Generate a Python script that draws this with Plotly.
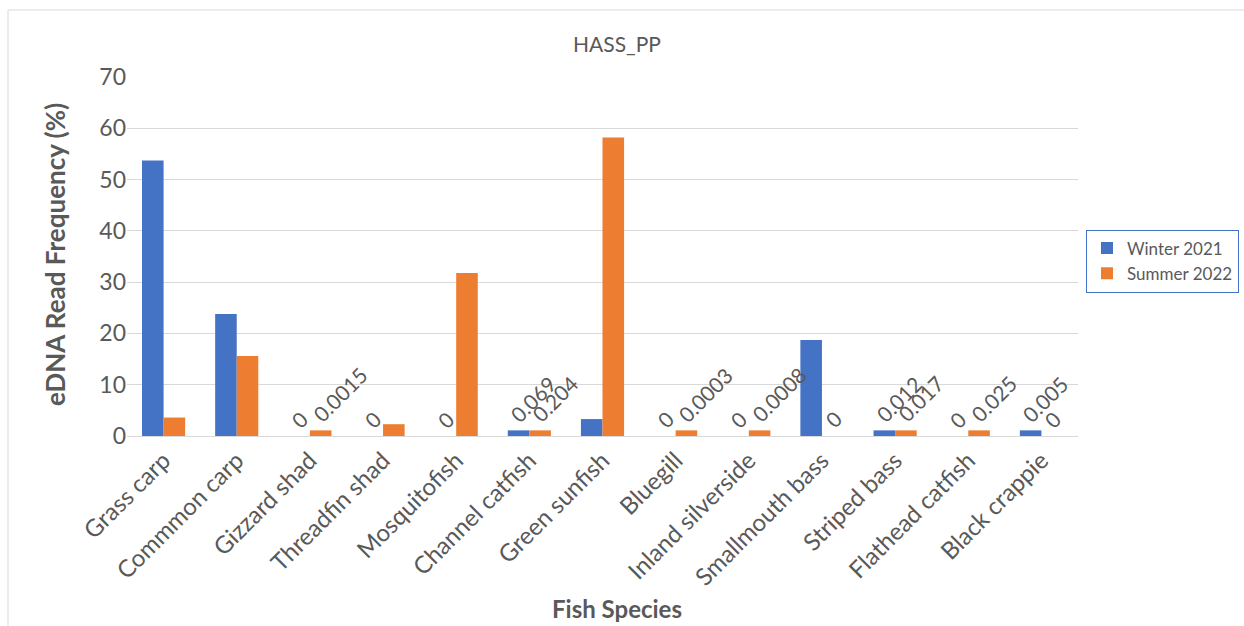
import plotly.graph_objects as go

# Fish species detected at HASS_PP and their eDNA read frequency (%)
species = [
    "Grass carp", "Commmon carp", "Gizzard shad", "Threadfin shad", "Mosquitofish",
    "Channel catfish", "Green sunfish", "Bluegill", "Inland silverside",
    "Smallmouth bass", "Striped bass", "Flathead catfish", "Black crappie",
]
winter_2021 = [53.7, 23.8, 0, 0, 0, 0.069, 3.3, 0, 0, 18.7, 0.012, 0, 0.005]
summer_2022 = [3.6, 15.6, 0.0015, 2.3, 31.8, 0.204, 58.2, 0.0003, 0.0008, 0, 0.017, 0.025, 0]

# Values below this are drawn as a short stub so trace amounts stay visible
MIN_VISIBLE = 1.1
LABEL_BELOW = 1.0

GRAY = "#595959"
FONT = "Lato"
L, R, T, B = 127, 166, 77, 190
PLOT_W = 1244 - L - R
PLOT_H = 626 - T - B


def bar_heights(vals):
    return [max(v, MIN_VISIBLE) if 0 < v < MIN_VISIBLE else v for v in vals]


series = [
    ("Winter 2021", winter_2021, "#4472C4", -10.7),
    ("Summer 2022", summer_2022, "#ED7D31", 10.7),
]

fig = go.Figure()
for name, vals, color, _ in series:
    fig.add_trace(go.Bar(
        name=name,
        x=species,
        y=bar_heights(vals),
        marker=dict(color=color, line=dict(width=0)),
        hovertext=[f"{v:g}" for v in vals],
        hoverinfo="x+text+name",
    ))

# Rotated value labels for the trace amounts
for name, vals, color, dx in series:
    for sp, v, h in zip(species, vals, bar_heights(vals)):
        if v < LABEL_BELOW:
            fig.add_annotation(
                x=sp, y=h, xref="x", yref="y",
                text=f"{v:g}",
                textangle=-45,
                xanchor="left", yanchor="bottom",
                xshift=dx - 16, yshift=1,
                showarrow=False,
                font=dict(family=FONT, size=21, color=GRAY),
            )

fig.add_annotation(
    text="<b>Fish Species</b>",
    xref="paper", yref="paper",
    x=(617 - L) / PLOT_W, y=(626 - B - 608) / PLOT_H,
    xanchor="center", yanchor="middle",
    showarrow=False,
    font=dict(family=FONT, size=24, color=GRAY),
)
fig.add_annotation(
    text="<b>eDNA Read Frequency (%)</b>",
    xref="paper", yref="paper",
    x=(55 - L) / PLOT_W, y=(626 - B - 255) / PLOT_H,
    xanchor="center", yanchor="middle",
    textangle=-90,
    showarrow=False,
    font=dict(family=FONT, size=26, color=GRAY),
)

fig.update_layout(
    width=1244,
    height=626,
    paper_bgcolor="white",
    plot_bgcolor="white",
    barmode="group",
    bargap=0.41,
    bargroupgap=0,
    margin=dict(l=L, r=R, t=T, b=B, autoexpand=False),
    font=dict(family=FONT, color=GRAY),
    title=dict(
        text="HASS_PP",
        x=617 / 1244,
        xanchor="center",
        y=1 - 45 / 626,
        yanchor="middle",
        font=dict(family=FONT, size=21, color=GRAY),
    ),
    legend=dict(
        x=(1086 - L) / PLOT_W,
        xanchor="left",
        y=(626 - B - 261) / PLOT_H,
        yanchor="middle",
        bordercolor="#4472C4",
        borderwidth=1,
        font=dict(family=FONT, size=17, color=GRAY),
        itemsizing="constant",
        itemwidth=30,
        tracegroupgap=4,
    ),
    xaxis=dict(
        tickangle=-45,
        tickfont=dict(family=FONT, size=24, color=GRAY),
        showgrid=False,
        showline=True,
        linecolor="#D9D9D9",
        linewidth=1,
        ticks="",
    ),
    yaxis=dict(
        range=[0, 70],
        dtick=10,
        tickfont=dict(family=FONT, size=23, color=GRAY),
        showgrid=True,
        gridcolor="#D9D9D9",
        gridwidth=1,
        zeroline=False,
        ticks="",
        ticklen=0,
    ),
    showlegend=True,
)

# Light frame around the chart area
fig.add_shape(
    type="rect",
    xref="paper", yref="paper",
    x0=(8 - L) / PLOT_W, x1=1.25,
    y0=-0.6, y1=(626 - B - 10) / PLOT_H,
    line=dict(color="#D9D9D9", width=1),
    fillcolor="rgba(0,0,0,0)",
    layer="below",
)

fig.write_html("out.html")
